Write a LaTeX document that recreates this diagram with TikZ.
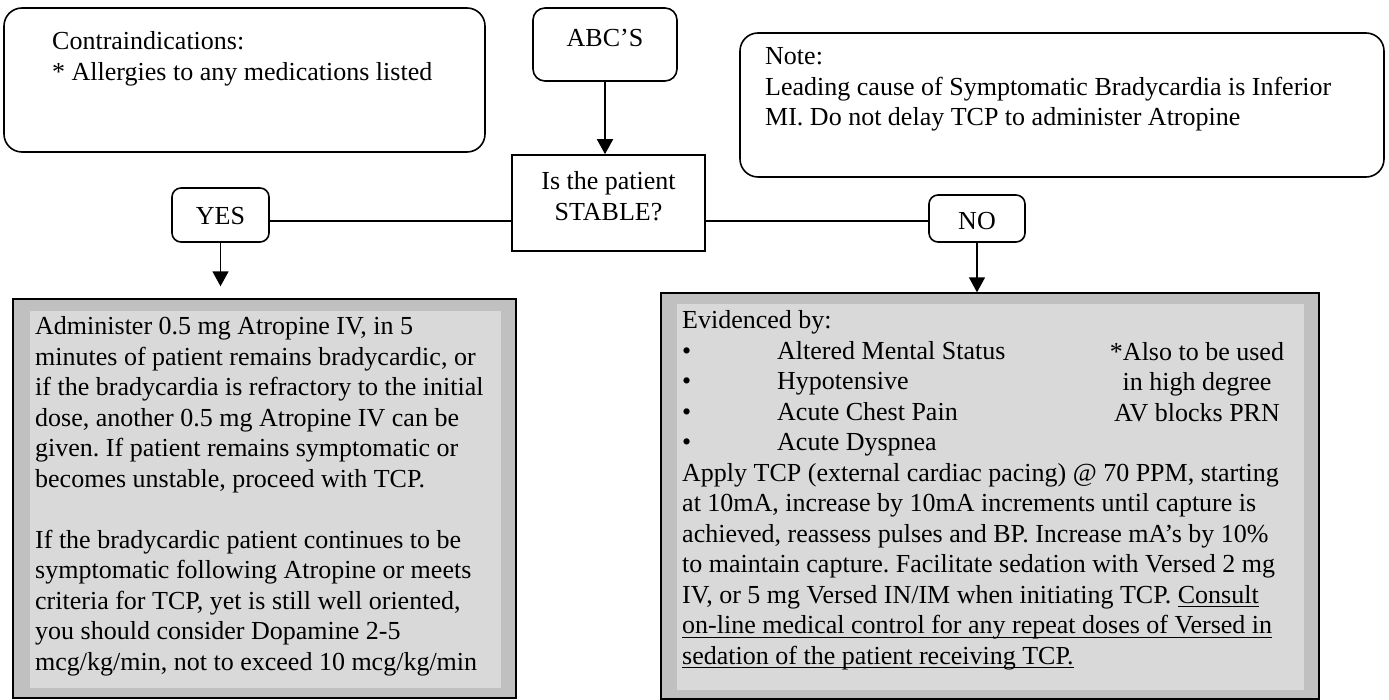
\documentclass[tikz,border=0pt]{standalone}
\usepackage{fontspec}
\setmainfont{Liberation Serif}
\usetikzlibrary{arrows.meta}
\definecolor{bandgray}{HTML}{C0C0C0}
\definecolor{fillgray}{HTML}{D9D9D9}
\newcommand{\fsz}{\fontsize{26}{30.5}\selectfont}
\newsavebox{\ulbox}
\newcommand{\myul}[1]{\leavevmode\sbox{\ulbox}{#1}\rlap{\rule[-4pt]{\wd\ulbox}{1.3pt}}\usebox{\ulbox}}
\frenchspacing
\begin{document}
\begin{tikzpicture}[x=1pt,y=-1pt]
\useasboundingbox[fill=white] (0,0) rectangle (1389,700);
\tikzset{
  rbox/.style={draw, line width=1.6pt, rounded corners=#1, inner sep=0pt},
  sbox/.style={draw, line width=1.6pt, inner sep=0pt},
  band/.style={draw, line width=1.4pt, fill=bandgray, inner sep=0pt},
  panel/.style={fill=fillgray, inner sep=0pt},
  conn/.style={line width=1.6pt},
  arr/.style={line width=1.6pt, -{Triangle[width=16pt,length=15pt]}},
  txt/.style={inner sep=0pt, anchor=base west, font=\fsz},
  ctxt/.style={inner sep=0pt, anchor=base, font=\fsz},
}
% boxes
\node[rbox=18pt, minimum width=481pt, minimum height=144pt] (contra) at (244.5,80) {};
\node[rbox=12pt, minimum width=144pt, minimum height=73pt] (abc) at (605,44.5) {};
\node[rbox=18pt, minimum width=644pt, minimum height=144pt] (note) at (1062,105) {};
\node[sbox, minimum width=193pt, minimum height=96pt] (stable) at (608.5,203) {};
\node[rbox=9pt, minimum width=97pt, minimum height=54pt] (yes) at (220.5,215) {};
\node[rbox=9pt, minimum width=96pt, minimum height=47pt] (no) at (977,218.5) {};
\node[band, minimum width=503pt, minimum height=399pt] (leftout) at (264.5,498.5) {};
\node[panel, minimum width=471pt, minimum height=377pt] (leftin) at (265.5,499.5) {};
\node[band, minimum width=658pt, minimum height=406pt] (rightout) at (990,496) {};
\node[panel, minimum width=627pt, minimum height=386pt] (rightin) at (990.5,497) {};
% connectors
\coordinate (hline) at (0,221);
\draw[conn] (yes.east |- hline) -- (stable.west |- hline);
\draw[conn] (stable.east |- hline) -- (no.west |- hline);
\draw[arr] (abc.south) -- (abc.south |- stable.north);
\draw[arr, shorten >=12pt] (yes.south) -- (yes.south |- leftout.north);
\draw[arr] (no.south) -- (no.south |- rightout.north);
% texts
\node[txt] (contratext) at (52,50) {\parbox[t]{430pt}{\fsz\raggedright Contraindications:\\{}* Allergies to any medications listed}};
\node[ctxt] (abctext) at (605,47) {ABC’S};
\node[txt] (notetext) at (765,65) {\parbox[t]{620pt}{\fsz\raggedright Note:\\Leading cause of Symptomatic Bradycardia is Inferior\\MI. Do not delay TCP to administer Atropine}};
\node[ctxt] (stabletext) at (608.5,190) {\parbox[t]{190pt}{\fsz\centering Is the patient\\STABLE?}};
\node[ctxt] (yestext) at (220.5,225) {YES};
\node[ctxt] (notext) at (977,230) {NO};
\node[txt] (lefttext) at (35,335) {\parbox[t]{475pt}{\fsz\raggedright
Administer 0.5 mg Atropine IV, in 5\\
minutes of patient remains bradycardic, or\\
if the bradycardia is refractory to the initial\\
dose, another 0.5 mg Atropine IV can be\\
given. If patient remains symptomatic or\\
becomes unstable, proceed with TCP.\\[30.5pt]
If the bradycardic patient continues to be\\
symptomatic following Atropine or meets\\
criteria for TCP, yet is still well oriented,\\
you should consider Dopamine 2-5\\
mcg/kg/min, not to exceed 10 mcg/kg/min}};
\node[txt] (righttext) at (682,329) {\parbox[t]{640pt}{\fsz\raggedright
Evidenced by:\\
\makebox[95pt][l]{•}Altered Mental Status\\
\makebox[95pt][l]{•}Hypotensive\\
\makebox[95pt][l]{•}Acute Chest Pain\\
\makebox[95pt][l]{•}Acute Dyspnea\\
Apply TCP (external cardiac pacing) @ 70 PPM, starting\\
at 10mA, increase by 10mA increments until capture is\\
achieved, reassess pulses and BP. Increase mA’s by 10\%\\
to maintain capture. Facilitate sedation with Versed 2 mg\\
IV, or 5 mg Versed IN/IM when initiating TCP. \myul{Consult}\\
\myul{on-line medical control for any repeat doses of Versed in}\\
\myul{sedation of the patient receiving TCP.}}};
\node[ctxt] (alsotext) at (1197,360) {\parbox[t]{220pt}{\fsz\centering *Also to be used\\in high degree\\AV blocks PRN}};
\end{tikzpicture}
\end{document}
